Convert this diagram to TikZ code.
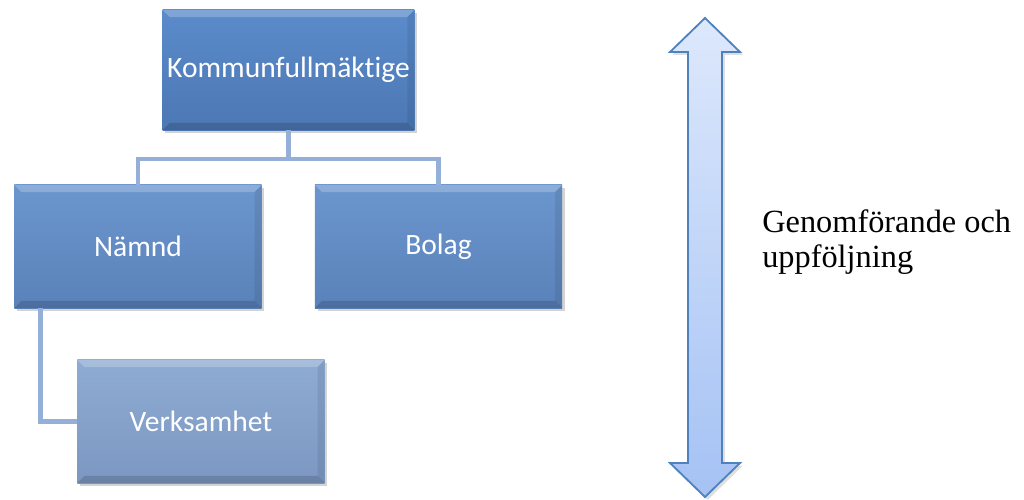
\documentclass[tikz,border=0pt]{standalone}
\usepackage{fontspec}
\setmainfont{Liberation Serif}
\newfontfamily\boksfont[Ligatures=NoCommon]{Carlito}
\usetikzlibrary{shadows}

\definecolor{boksblaa}{HTML}{5B8BCB}
\definecolor{boksmork}{HTML}{4C78B4}
\definecolor{ljusblaa}{HTML}{6B96CD}
\definecolor{ljusmork}{HTML}{5A82BA}
\definecolor{verkblaa}{HTML}{8EABD3}
\definecolor{verkmork}{HTML}{7C98C2}
\definecolor{linjefarg}{HTML}{95B0D8}
\definecolor{pilkant}{HTML}{4F81BD}
\definecolor{piltopp}{HTML}{DDE8FC}
\definecolor{pilbotten}{HTML}{A5C2F4}

\begin{document}
\begin{tikzpicture}[x=0.025cm,y=-0.025cm]
\tikzstyle{boks} = [rectangle, minimum width=6.175cm, text=white,
  font=\boksfont\fontsize{21}{24}\selectfont,
  drop shadow={shadow xshift=2pt,shadow yshift=-2pt,opacity=0.35},
  path picture={
    \fill[white,opacity=0.22] (path picture bounding box.north west) -- (path picture bounding box.north east)
      -- ([xshift=-5pt,yshift=-5pt]path picture bounding box.north east) -- ([xshift=5pt,yshift=-5pt]path picture bounding box.north west) -- cycle;
    \fill[black,opacity=0.15] (path picture bounding box.south west) -- (path picture bounding box.south east)
      -- ([xshift=-5pt,yshift=5pt]path picture bounding box.south east) -- ([xshift=5pt,yshift=5pt]path picture bounding box.south west) -- cycle;
    \fill[black,opacity=0.08] (path picture bounding box.north east) -- (path picture bounding box.south east)
      -- ([xshift=-5pt,yshift=5pt]path picture bounding box.south east) -- ([xshift=-5pt,yshift=-5pt]path picture bounding box.north east) -- cycle;
  }]
\tikzstyle{linje} = [draw=linjefarg, line width=3.5pt]

\useasboundingbox (0,0) rectangle (1024,499);

\draw (288.5,70) node[boks,minimum height=3cm,top color=boksblaa,bottom color=boksmork] (kf) {Kommunfullmäktige};
\draw (138,246.5) node[boks,minimum height=3.075cm,top color=ljusblaa,bottom color=ljusmork] (nm) {Nämnd};
\draw (438.5,246.5) node[boks,minimum height=3.075cm,top color=ljusblaa,bottom color=ljusmork] (bo) {Bolag};
\draw (201,421.5) node[boks,minimum height=3.075cm,top color=verkblaa,bottom color=verkmork] (vh) {Verksamhet};

\coordinate (gren) at (288.5,159);
\draw[linje] (kf.south) -- (gren) -| (nm.north);
\draw[linje] (gren) -| (bo.north);
\draw[linje] ([xshift=0.65cm]nm.south west) |- (vh.west);

% pil
\draw[draw=pilkant, line width=1.3pt, top color=piltopp, bottom color=pilbotten,
  drop shadow={shadow xshift=2pt,shadow yshift=-2pt,opacity=0.25}]
  (705,18) -- (740,52) -- (722,52) -- (722,463) -- (740,463) -- (705,497)
  -- (670,463) -- (688,463) -- (688,52) -- (670,52) -- cycle;

\node[anchor=base west, align=left, font=\fontsize{23}{24.5}\selectfont, inner sep=0pt] (txt) at (762,267)
  {Genomförande och\\uppföljning};

\end{tikzpicture}
\end{document}
